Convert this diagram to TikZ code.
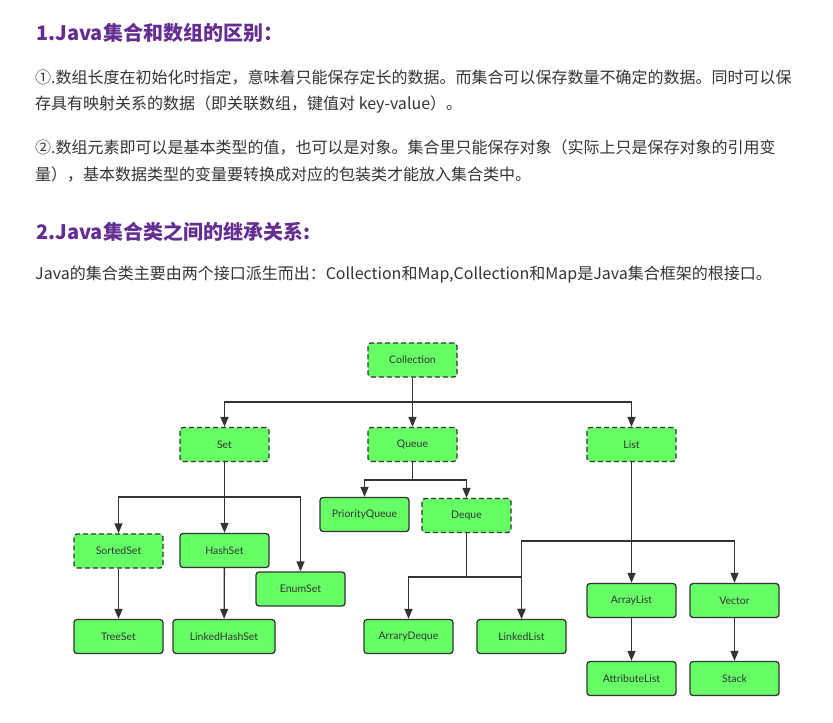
\documentclass[tikz,border=0pt]{standalone}
\usepackage{fontspec}
\usepackage{tikz}
\usepackage{xcolor}
\usetikzlibrary{arrows.meta}

\newfontfamily\cjk{Noto Sans CJK SC}
\newfontfamily\boxfont{Lato}

\definecolor{boxgreen}{HTML}{66FF66}
\definecolor{ink}{HTML}{333333}
\definecolor{headpurple}{HTML}{642D91}

\tikzset{
  cls/.style={draw=ink, fill=boxgreen, line width=1.3pt, rounded corners=3pt,
    minimum width=89pt, minimum height=34pt, inner sep=0pt,
    font=\boxfont\fontsize{10.5}{12}\selectfont, text=ink},
  iface/.style={cls, dash pattern=on 5pt off 3pt},
  arr/.style={draw=ink, line width=1.3pt, -{Triangle[length=10pt,width=8pt]}},
  heading/.style={anchor=west, inner sep=0pt, text=headpurple,
    font=\cjk\bfseries\fontsize{20}{24}\selectfont},
  para/.style={anchor=west, inner sep=0pt, text=ink,
    font=\cjk\fontsize{16}{19}\selectfont},
}

\begin{document}
\begin{tikzpicture}[x=1pt,y=-1pt]
\useasboundingbox (0,0) rectangle (833,723);

% text above the tree
\node[heading] (h1) at (36,33) {1.Java集合和数组的区别：};
\node[para] (p1) at (35,78) {①.数组长度在初始化时指定，意味着只能保存定长的数据。而集合可以保存数量不确定的数据。同时可以保};
\node[para] (p2) at (35,105) {存具有映射关系的数据（即关联数组，键值对 key-value）。};
\node[para] (p3) at (35,148) {②.数组元素即可以是基本类型的值，也可以是对象。集合里只能保存对象（实际上只是保存对象的引用变};
\node[para] (p4) at (35,175) {量），基本数据类型的变量要转换成对应的包装类才能放入集合类中。};
\node[heading] (h2) at (36,232) {2.Java集合类之间的继承关系:};
\node[para] (p5) at (35,275) {Java的集合类主要由两个接口派生而出：Collection和Map,Collection和Map是Java集合框架的根接口。};

% interfaces (dashed border)
\foreach \name/\txt/\x/\y in {coll/Collection/412.5/360, set/Set/224.5/444.5,
    queue/Queue/412.5/444.5, list/List/631.5/444.5,
    sorted/SortedSet/118.5/551, deque/Deque/466.5/515.5} {
  \node[iface] (\name) at (\x,\y) {\txt};
}

% classes (solid border)
\foreach \name/\txt/\x/\y in {pq/PriorityQueue/364.5/514.5, hashset/HashSet/224.5/550.5,
    enumset/EnumSet/300.5/589, treeset/TreeSet/118.5/636.5,
    adeque/ArraryDeque/408.5/636.5, llist/LinkedList/521.5/636.5,
    alist/ArrayList/631.5/600.5, vector/Vector/734.5/600.5,
    attr/AttributeList/631.5/678.5, stack/Stack/734.5/678.5} {
  \node[cls] (\name) at (\x,\y) {\txt};
}
\node[cls, minimum width=102pt] (lhs) at (224,636.5) {LinkedHashSet};

% branching points
\coordinate (collj) at (412.5,402);
\coordinate (setj) at (224.5,497);
\coordinate (queuej) at (412.5,480);
\coordinate (dequej) at (466.5,577);
\coordinate (listj) at (631.5,541);

% Collection
\draw[arr] (coll) -- (queue);
\draw[arr] (collj) -| (set);
\draw[arr] (collj) -| (list);

% Set
\draw[arr] (set) -- (hashset);
\draw[arr] (setj) -| (sorted);
\draw[arr] (setj) -| (enumset);
\draw[arr] (sorted) -- (treeset);
\draw[arr] (hashset) -- (lhs);

% Queue / Deque
\draw[draw=ink, line width=1.3pt] (queue) -- (queuej);
\draw[arr] (queuej) -| (pq);
\draw[arr] (queuej) -| (deque);
\draw[draw=ink, line width=1.3pt] (deque) -- (dequej);
\draw[arr] (dequej) -| (adeque);
\draw[arr] (dequej) -| (llist);

% List
\draw[arr] (list) -- (alist);
\draw[arr] (listj) -| (llist);
\draw[arr] (listj) -| (vector);
\draw[arr] (alist) -- (attr);
\draw[arr] (vector) -- (stack);
\end{tikzpicture}
\end{document}
